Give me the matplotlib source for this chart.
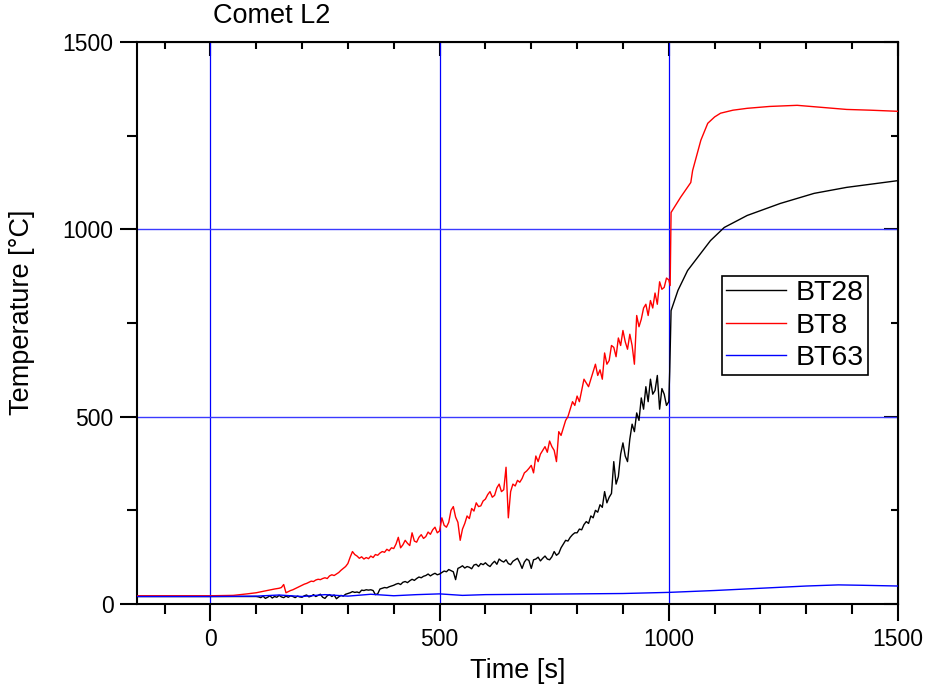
import matplotlib
matplotlib.use('Agg')
import matplotlib.pyplot as plt
from matplotlib.ticker import MultipleLocator

plt.rcParams['font.family'] = ['Liberation Sans', 'DejaVu Sans']

# BT8 (red): read every 5 s in the noisy part, coarser elsewhere
bt8_t = [-160, 0, 50, 80, 100, 120, 140] + list(range(150, 1000, 5)) + \
        [1000, 1003, 1005, 1026, 1048, 1052, 1070, 1085, 1100, 1113, 1140, 1171,
         1220, 1280, 1330, 1388, 1440, 1500]
bt8_v = [22, 22, 23, 27, 30, 35, 40,
         42, 44, 52, 30, 33, 36, 38, 41, 44, 47,
         50, 53, 55, 58, 61, 60, 64, 66, 65, 68,
         70, 68, 75, 78, 76, 80, 84, 90, 95, 100,
         108, 125, 140, 132, 128, 122, 126, 120, 124, 121,
         128, 124, 132, 130, 136, 140, 138, 146, 142, 150,
         148, 160, 178, 150, 158, 170, 162, 156, 190, 168,
         165, 178, 185, 175, 180, 192, 186, 198, 205, 190,
         195, 230, 210, 205, 218, 250, 260, 232, 218, 170,
         200, 215, 235, 228, 255, 248, 270, 260, 262, 275,
         280, 292, 300, 285, 290, 310, 320, 300, 305, 365,
         230, 300, 320, 315, 330, 325, 335, 350, 355, 362,
         370, 350, 395, 380, 400, 410, 420, 405, 435, 420,
         410, 380, 460, 450, 470, 490, 500, 520, 540, 530,
         555, 540, 570, 600, 590, 580, 600, 620, 640, 610,
         625, 600, 670, 640, 650, 690, 685, 660, 710, 690,
         730, 700, 680, 720, 690, 640, 770, 740, 760, 790,
         800, 770, 810, 790, 830, 800, 860, 840, 845, 870,
         865, 850, 1045, 1086, 1125, 1157, 1238, 1283, 1300, 1310, 1318, 1323,
         1328, 1331, 1326, 1320, 1318, 1315]

# BT28 (black)
bt28_t = [-160, 0, 50] + list(range(100, 1000, 5)) + \
         [1000, 1002, 1005, 1020, 1041, 1063, 1091, 1121, 1171, 1243, 1317, 1388, 1450, 1500]
bt28_v = [20, 20, 20,
          20, 19, 17, 21, 15, 18, 22, 16, 20, 18, 23, 19, 17, 21, 18, 22, 20, 17, 21, 19,
          18, 22, 24, 19, 21, 25, 20, 23, 26, 18, 15, 22, 25, 20, 24, 14, 19, 23, 21, 26,
          28, 30, 33, 31, 32, 30, 37, 36, 38, 37, 38, 36, 25, 27, 40, 42, 44, 43, 46, 48,
          50, 53, 55, 52, 58, 60, 57, 62, 66, 63, 68, 72, 70, 74, 76, 80, 75, 79, 82, 78,
          80, 84, 88, 86, 92, 89, 86, 65, 95, 98, 102, 96, 100, 98, 94, 104, 106, 100, 108, 105,
          110, 104, 100, 108, 114, 106, 120, 115, 112, 118, 108, 105, 114, 118, 122, 110, 95, 112, 120, 116,
          95, 118, 120, 125, 115, 122, 128, 120, 118, 126, 140, 130, 135, 150, 160, 170, 168, 178, 185, 190,
          190, 200, 198, 212, 220, 215, 235, 230, 250, 245, 265, 258, 300, 270, 285, 295, 380, 320, 340, 400,
          430, 395, 380, 440, 480, 460, 510, 490, 550, 520, 580, 540, 600, 560, 570, 610, 520, 575, 560, 530,
          540, 620, 783, 837, 890, 925, 970, 1005, 1037, 1069, 1096, 1112, 1122, 1130]

# BT63 (blue)
bt63_t = [-160, 0, 100, 150, 200, 250, 300, 350, 400, 450, 500, 550, 600, 700, 800,
          900, 1000, 1100, 1200, 1300, 1370, 1420, 1500]
bt63_v = [20, 20, 21, 24, 20, 25, 21, 26, 22, 25, 27, 23, 25, 26, 27,
          28, 31, 36, 42, 48, 51, 50, 48]

fig = plt.figure(figsize=(9.27, 6.91), dpi=100)
ax = fig.add_axes([137/927, 1 - 604/691, 761/927, 562/691])

for x in [0, 500, 1000]:
    ax.axvline(x, color='#0000ff', lw=0.9, zorder=1)
for y in [500, 1000]:
    ax.axhline(y, color='#3a3aff', lw=1.0, zorder=1)

ax.plot(bt28_t, bt28_v, color='black', lw=1.0, label='BT28', zorder=3)
ax.plot(bt8_t, bt8_v, color='red', lw=1.0, label='BT8', zorder=3)
ax.plot(bt63_t, bt63_v, color='blue', lw=1.0, label='BT63', zorder=3)

ax.set_xlim(-160, 1500)
ax.set_ylim(0, 1500)
ax.xaxis.set_major_locator(MultipleLocator(500))
ax.xaxis.set_minor_locator(MultipleLocator(100))
ax.yaxis.set_major_locator(MultipleLocator(500))
ax.yaxis.set_minor_locator(MultipleLocator(250))
ax.tick_params(which='major', direction='out', length=12, width=1.5, labelsize=16.5, pad=5)
ax.tick_params(which='minor', direction='out', length=7, width=1.5)
for s in ax.spines.values():
    s.set_linewidth(1.5)

top = ax.secondary_xaxis('top')
top.xaxis.set_major_locator(MultipleLocator(500))
top.xaxis.set_minor_locator(MultipleLocator(100))
top.tick_params(which='major', direction='in', length=10, width=1.5, labeltop=False)
top.tick_params(which='minor', direction='in', length=5, width=1.5)
right = ax.secondary_yaxis('right')
right.yaxis.set_major_locator(MultipleLocator(500))
right.yaxis.set_minor_locator(MultipleLocator(250))
right.tick_params(which='major', direction='in', length=10, width=1.5, labelright=False)
right.tick_params(which='minor', direction='in', length=5, width=1.5)

ax.set_xlabel('Time [s]', fontsize=19.5)
ax.xaxis.set_label_coords(0.5, -(658 - 604) / 562)
ax.set_ylabel('Temperature [°C]', fontsize=19.5)
ax.yaxis.set_label_coords(-(137 - 35) / 761, (604 - 312) / 562)
fig.text(213/927, 1 - 23/691, 'Comet L2', fontsize=19.5, ha='left', va='baseline')

leg = ax.legend(loc='upper left', bbox_to_anchor=(585/761, (604-276)/562), fontsize=20.5,
                frameon=True, fancybox=False, edgecolor='black', framealpha=1,
                handlelength=2.1, handletextpad=0.35, labelspacing=0.22,
                borderpad=0.15, borderaxespad=0)
leg.get_frame().set_linewidth(1.2)

fig.savefig('out.png', dpi=100)
